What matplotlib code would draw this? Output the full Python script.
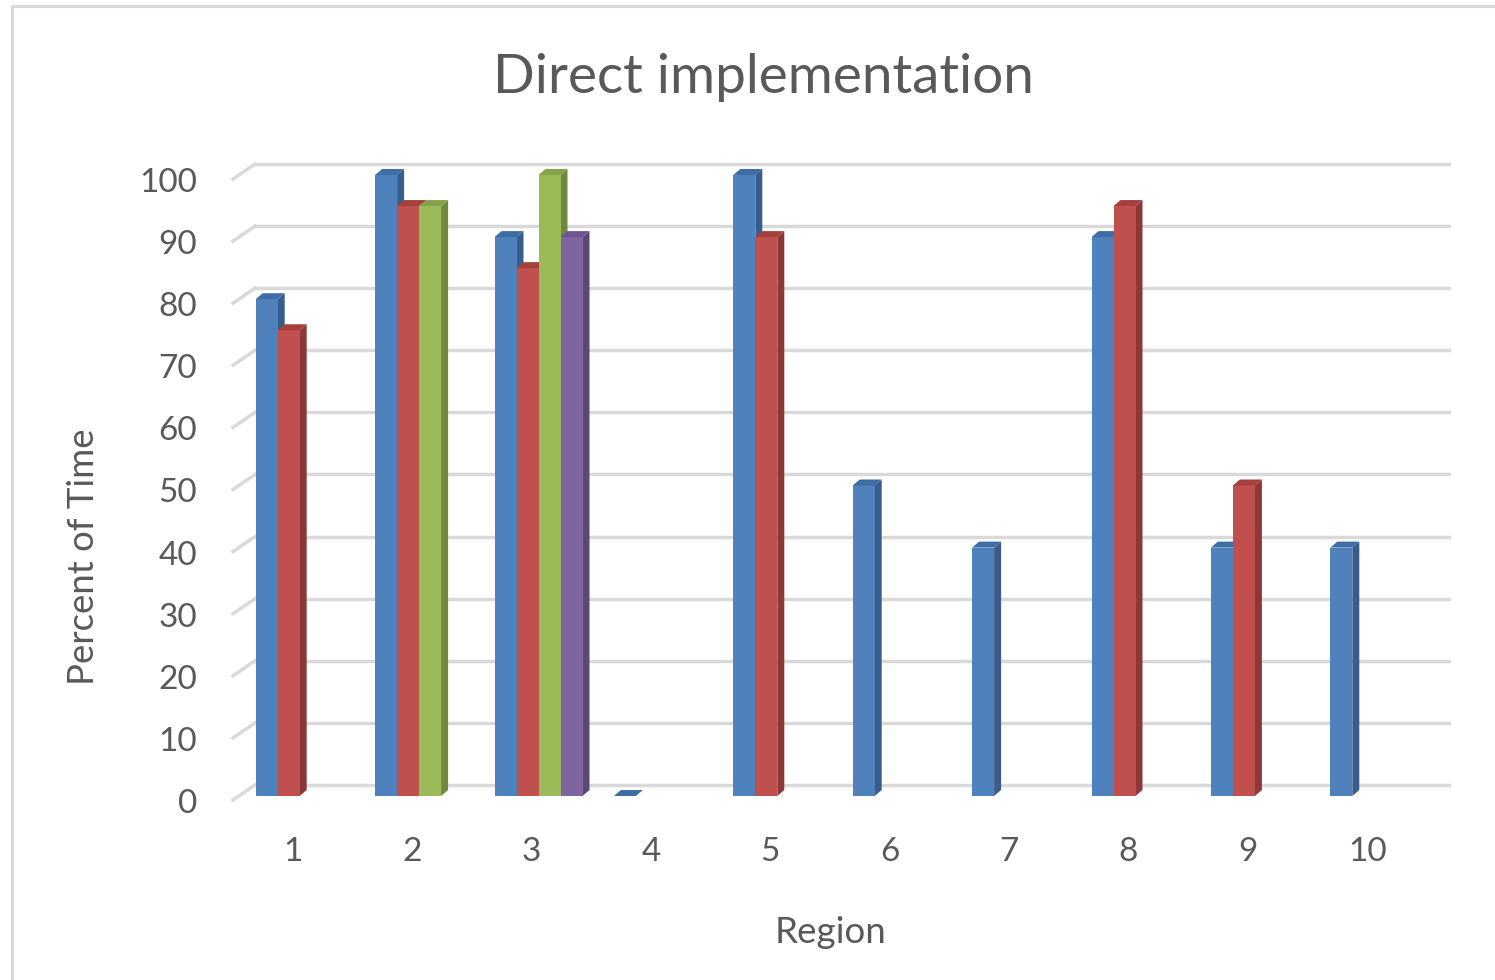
import numpy as np
import matplotlib
matplotlib.use("Agg")
import matplotlib.pyplot as plt
from matplotlib.patches import Polygon, Rectangle
from matplotlib.lines import Line2D
from matplotlib.transforms import IdentityTransform

nan = np.nan
regions = [1, 2, 3, 4, 5, 6, 7, 8, 9, 10]
series_1 = [80, 100, 90, 0, 100, 50, 40, 90, 40, 40]
series_2 = [75, 95, 85, nan, 90, nan, nan, 95, 50, nan]
series_3 = [nan, 95, 100, nan, nan, nan, nan, nan, nan, nan]
series_4 = [nan, nan, 90, nan, nan, nan, nan, nan, nan, nan]
y_ticks = [0, 10, 20, 30, 40, 50, 60, 70, 80, 90, 100]

title = "Direct implementation"
x_label = "Region"
y_label = "Percent of Time"

front_colors = ["#4F81BD", "#C0504D", "#9BBB59", "#8064A2"]
side_colors = ["#385D8A", "#8C3836", "#71893F", "#5C4776"]
top_colors = ["#3F6DA5", "#A5403D", "#84A44A", "#6C5590"]
text_color = "#595959"
grid_color = "#D9D9D9"

plt.rcParams["font.family"] = ["Lato", "DejaVu Sans"]

W, H = 1495, 980
fig = plt.figure(figsize=(W / 100, H / 100), dpi=100)
fig.patch.set_facecolor("white")

# outer chart frame
fig.add_artist(Line2D([12 / W, 12 / W], [0, 1 - 6 / H], transform=fig.transFigure,
                      color=grid_color, lw=2.2))
fig.add_artist(Line2D([12 / W, 1], [1 - 6 / H, 1 - 6 / H], transform=fig.transFigure,
                      color=grid_color, lw=2.2))

left_px, right_px, top_px, bot_px = 233, 1427, 175, 796
ax = fig.add_axes([left_px / W, 1 - bot_px / H, (right_px - left_px) / W,
                   (bot_px - top_px) / H])
ax.set_xlim(0.5, 10.5)
ax.set_ylim(0, 100)
ax.axis("off")

px_per_x = (right_px - left_px) / 10.0
px_per_y = (bot_px - top_px) / 100.0

# back-wall gridlines with perspective offset (display coords)
back_dx, back_dy, front_drop = 22, 11, 4
ident = IdentityTransform()
for v in y_ticks:
    x0, y0 = ax.transData.transform((0.5, v))
    x1, _ = ax.transData.transform((10.5, v))
    ax.add_artist(Line2D([x0, x0 + back_dx], [y0 - front_drop, y0 + back_dy],
                         transform=ident, color=grid_color, lw=2.5, zorder=1,
                         clip_on=False))
    ax.add_artist(Line2D([x0 + back_dx, x1 + back_dx], [y0 + back_dy, y0 + back_dy],
                         transform=ident, color=grid_color, lw=2.5, zorder=1,
                         clip_on=False))

# 3D bars
bar_w = 22 / px_per_x
start = -37 / px_per_x
ddx = 7 / px_per_x
ddy = 6 / px_per_y
all_series = [series_1, series_2, series_3, series_4]
for ci, r in enumerate(regions):
    for si, s in enumerate(all_series):
        v = s[ci]
        if v is None or np.isnan(v):
            continue
        x0 = r + start + si * bar_w
        x1 = x0 + bar_w
        z = 3 + ci * 10 + si
        if v > 0:
            ax.add_patch(Polygon([(x1, 0), (x1 + ddx, ddy), (x1 + ddx, v + ddy), (x1, v)],
                                 closed=True, facecolor=side_colors[si], edgecolor="none",
                                 zorder=z, clip_on=False))
            ax.add_patch(Rectangle((x0, 0), bar_w, v, facecolor=front_colors[si],
                                   edgecolor="none", zorder=z, clip_on=False))
        ax.add_patch(Polygon([(x0, v), (x1, v), (x1 + ddx, v + ddy), (x0 + ddx, v + ddy)],
                             closed=True, facecolor=top_colors[si], edgecolor="none",
                             zorder=z, clip_on=False))

# tick labels
for v in y_ticks:
    xd, yd = ax.transData.transform((0.5, v))
    fig.text(197 / W, (yd - 17) / H, str(v), ha="right", va="baseline",
             fontsize=24, color=text_color)
for r in regions:
    xd, yd = ax.transData.transform((r, 0))
    fig.text(xd / W, 1 - 861 / H, str(r), ha="center", va="baseline",
             fontsize=24, color=text_color)

fig.text(763 / W, 1 - 93 / H, title, ha="center", va="baseline", fontsize=39.5,
         color=text_color)
fig.text(831 / W, 1 - 943 / H, x_label, ha="center", va="baseline", fontsize=26.5,
         color=text_color)
fig.text(94 / W, 1 - 557 / H, y_label, ha="center", va="baseline", rotation=90,
         rotation_mode="anchor", fontsize=26.3, color=text_color)

fig.savefig("out.png", dpi=100, facecolor="white")
